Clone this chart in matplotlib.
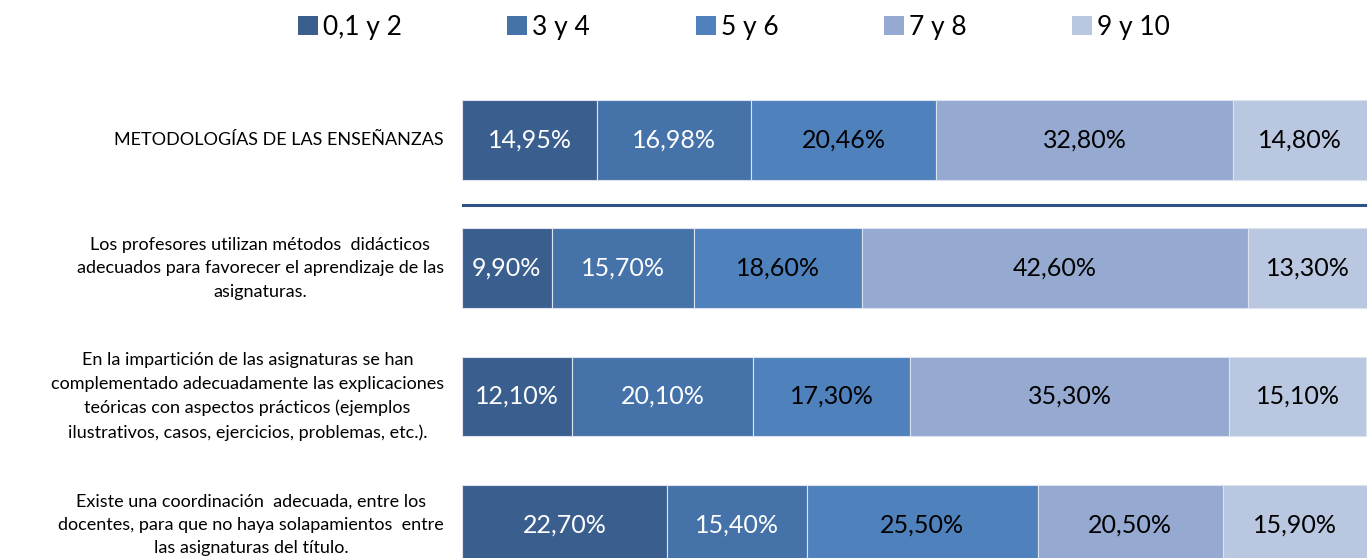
import numpy as np
import matplotlib.pyplot as plt
from matplotlib.patches import Patch

# -----------------------------
# Datos
# -----------------------------
categorias = [
    "METODOLOGÍAS DE LAS ENSEÑANZAS",
    "Los profesores utilizan métodos  didácticos\nadecuados para favorecer el aprendizaje de las\nasignaturas.",
    "En la impartición de las asignaturas se han\ncomplementado adecuadamente las explicaciones\nteóricas con aspectos prácticos (ejemplos\nilustrativos, casos, ejercicios, problemas, etc.).",
    "Existe una coordinación  adecuada, entre los\ndocentes, para que no haya solapamientos  entre\nlas asignaturas del título.",
]
series = ["0,1 y 2", "3 y 4", "5 y 6", "7 y 8", "9 y 10"]

v_0_2 = [14.95, 9.90, 12.10, 22.70]
v_3_4 = [16.98, 15.70, 20.10, 15.40]
v_5_6 = [20.46, 18.60, 17.30, 25.50]
v_7_8 = [32.80, 42.60, 35.30, 20.50]
v_9_10 = [14.80, 13.30, 15.10, 15.90]

colores = ["#3A5F8E", "#4573A9", "#4F81BD", "#95A9D1", "#B9C7E0"]
color_texto = ["white", "white", "black", "black", "black"]

plt.rcParams["font.family"] = ["Lato", "DejaVu Sans"]

W, H = 1370, 558
fig = plt.figure(figsize=(W / 100, H / 100), dpi=100)

# eje: x de 462 a 1367 px, y de 60 a 558 px
ax = fig.add_axes([462 / W, 0, (1367 - 462) / W, (558 - 60) / H])

valores = [v_0_2, v_3_4, v_5_6, v_7_8, v_9_10]
y = np.arange(len(categorias))
izq = np.zeros(len(categorias))
for serie, vals, col, tcol in zip(series, valores, colores, color_texto):
    vals = np.array(vals)
    ax.barh(y, vals, left=izq, height=0.62, color=col, edgecolor="#DDE3EE",
            linewidth=0.8, label=serie)
    for yi, l, v in zip(y, izq, vals):
        ax.text(l + v / 2, yi, f"{v:.2f}%".replace(".", ","), ha="center",
                va="center", fontsize=18, color=tcol)
    izq += vals

ax.set_xlim(0, 100)
ax.set_ylim(3.258, -0.623)
ax.set_xticks([])
ax.set_yticks([])
for s in ax.spines.values():
    s.set_visible(False)

# línea separadora bajo el bloque de título
ax.axhline(0.507, color="#2C5286", linewidth=2.2)

# etiquetas de categorías
for yi, cat in zip(y, categorias):
    ax.text(-2.0, yi, cat, ha="right", va="center", multialignment="center",
            fontsize=13, linespacing=1.58, color="black", clip_on=False)

handles = [Patch(facecolor=c, edgecolor="none") for c in colores]
fig.legend(handles, series, loc="center", bbox_to_anchor=(734 / W, 1 - 27 / H),
           ncol=5, frameon=False, fontsize=19, handlelength=0.75, handleheight=0.75,
           handletextpad=0.2, columnspacing=4.0)

fig.savefig("out.png", dpi=100)
